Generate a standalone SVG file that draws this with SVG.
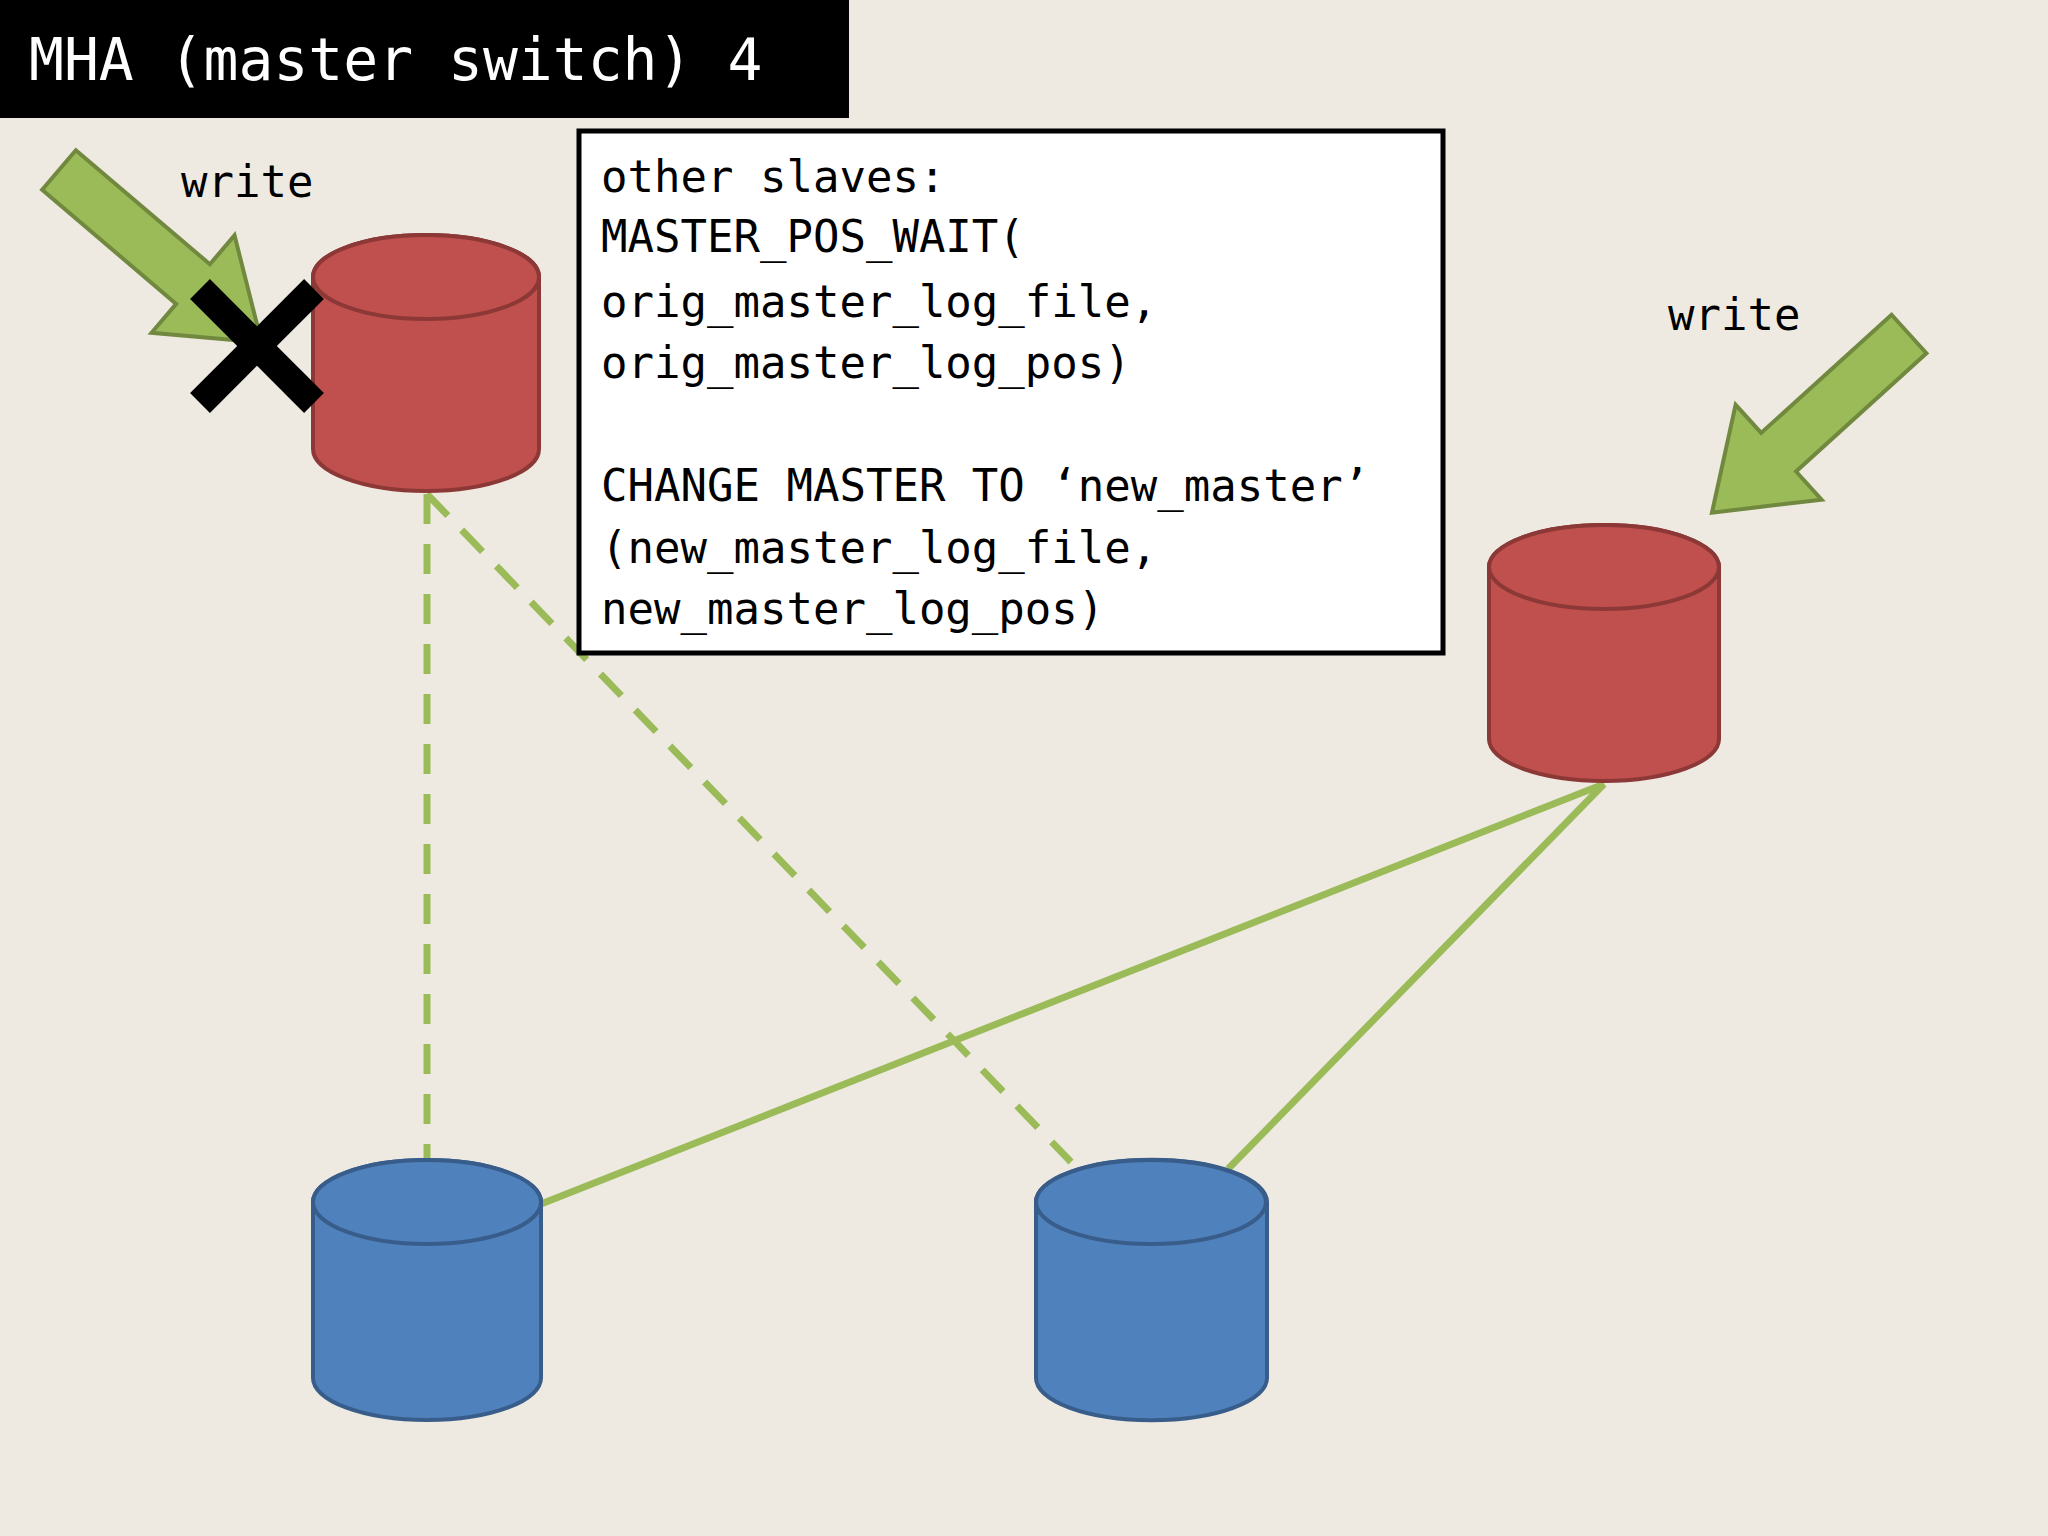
<svg xmlns="http://www.w3.org/2000/svg" width="2048" height="1536" viewBox="0 0 2048 1536">
<defs>
<style>
.t{font-family:"DejaVu Sans Mono","Liberation Mono",monospace;font-size:44px;fill:#000}
.red{fill:#C0504D;stroke:#8C3836;stroke-width:4}
.blue{fill:#4F81BD;stroke:#385D8A;stroke-width:4}
.arr{fill:#9BBB59;stroke:#71893F;stroke-width:4}
.dash{stroke:#9BBB59;stroke-width:7;stroke-dasharray:30,20;fill:none}
.sol{stroke:#9BBB59;stroke-width:7;fill:none}
</style>
<polygon id="ar" points="0,-26 176,-26 176,-64 266,0 176,64 176,26 0,26"/>
</defs>
<rect width="2048" height="1536" fill="#EEEAE2"/>
<g id="title"><rect x="0" y="0" width="849" height="118" fill="#000"/>
<text x="29" y="80" style="font-family:'DejaVu Sans Mono',monospace;font-size:58px;fill:#fff">MHA (master switch) 4</text></g>
<g id="connectors">
<line class="dash" x1="427" y1="494" x2="427" y2="1160"/>
<line class="dash" x1="427" y1="494" x2="1071" y2="1162"/>
<line class="sol" x1="1604" y1="784" x2="541" y2="1204"/>
<line class="sol" x1="1604" y1="784" x2="1228" y2="1169"/>
</g>
<g id="note"><rect x="579" y="131" width="864" height="522" fill="#fff" stroke="#000" stroke-width="5"/>
<text class="t" x="601" y="192">other slaves:</text>
<text class="t" x="601" y="252">MASTER_POS_WAIT(</text>
<text class="t" x="601" y="317"> orig_master_log_file,</text>
<text class="t" x="601" y="378"> orig_master_log_pos)</text>
<text class="t" x="601" y="501">CHANGE MASTER TO ‘new_master’</text>
<text class="t" x="601" y="563">(new_master_log_file,</text>
<text class="t" x="601" y="624"> new_master_log_pos)</text></g>
<g id="red1"><path class="red" d="M313,277 L313,449 A113,42 0 0 0 539,449 L539,277 A113,42 0 0 0 313,277 Z"/><ellipse class="red" cx="426" cy="277" rx="113" ry="42"/></g>
<g id="red2"><path class="red" d="M1489,567 L1489,739 A115,42 0 0 0 1719,739 L1719,567 A115,42 0 0 0 1489,567 Z"/><ellipse class="red" cx="1604" cy="567" rx="115" ry="42"/></g>
<g id="blue1"><path class="blue" d="M313,1202 L313,1378 A114,42 0 0 0 541,1378 L541,1202 A114,42 0 0 0 313,1202 Z"/><ellipse class="blue" cx="427" cy="1202" rx="114" ry="42"/></g>
<g id="blue2"><path class="blue" d="M1036,1202 L1036,1378 A115,42 0 0 0 1267,1378 L1267,1202 A115,42 0 0 0 1036,1202 Z"/><ellipse class="blue" cx="1151" cy="1202" rx="115" ry="42"/></g>
<g id="arrow1"><use href="#ar" class="arr" transform="translate(59,170) rotate(40.4)"/></g>
<g id="arrow2"><use href="#ar" class="arr" transform="translate(1909,334) rotate(137.8)"/></g>
<g id="xmark" stroke="#000" stroke-width="28"><line x1="200" y1="289" x2="314" y2="403"/><line x1="314" y1="289" x2="200" y2="403"/></g>
<text class="t" x="181" y="197">write</text>
<text class="t" x="1668" y="330">write</text>
</svg>
